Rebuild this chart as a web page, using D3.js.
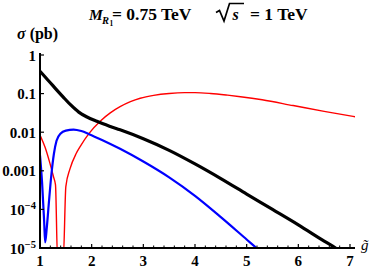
<!DOCTYPE html>
<html>
<head>
<meta charset="utf-8">
<script src="https://cdn.jsdelivr.net/npm/d3@7"></script>
<style>
  html, body { margin: 0; padding: 0; background: #fff; }
  svg { display: block; }
  text { font-family: "Liberation Serif", "Times New Roman", serif; }
</style>
</head>
<body>
<svg id="chart" width="374" height="270"></svg>
<script>
// ---- data (g-tilde, sigma in pb) ----
const blackX = [1.0, 1.1, 1.2, 1.3, 1.45, 1.6, 1.75, 1.9, 2.1, 2.36, 2.55, 3.0, 3.5, 4.0, 4.5, 5.0, 5.5, 6.0, 6.5, 6.72, 6.8];
const blackY = [0.38, 0.269, 0.191, 0.135, 0.0813, 0.050, 0.0331, 0.0251, 0.0191, 0.0141, 0.0115, 0.00676, 0.00339, 0.00151, 6.3e-4, 2.5e-4, 1.0e-4, 3.98e-5, 1.51e-5, 1.0e-5, 8.5e-6];

const blueX = [1.0, 1.04, 1.08, 1.1, 1.13, 1.17, 1.22, 1.27, 1.32, 1.4, 1.5, 1.65, 1.8, 1.95, 2.2, 2.55, 3.0, 3.5, 4.0, 4.5, 5.0, 5.19, 5.3];
const blueY = [0.0025, 5.0e-4, 5.0e-5, 1.4e-5, 3.2e-5, 1.4e-4, 7.9e-4, 0.0028, 0.006, 0.0093, 0.011, 0.0117, 0.0107, 0.0089, 0.0063, 0.00372, 0.00174, 6.76e-4, 2.24e-4, 6.3e-5, 1.66e-5, 1.0e-5, 7.4e-6];

const redX = [1.0, 1.1, 1.19, 1.26, 1.30, 1.34, 1.45, 1.50, 1.58, 1.7, 1.78, 1.95, 2.17, 2.36, 2.55, 2.75, 2.94, 3.2, 3.5, 3.8, 4.0, 4.3, 4.63, 4.88, 5.3, 5.9, 6.5, 7.1];
const redY = [0.0085, 0.004, 0.0016, 7.1e-4, 4.3e-4, 5e-6, 5e-6, 3.9e-4, 0.00112, 0.0028, 0.0043, 0.0093, 0.0195, 0.0316, 0.0457, 0.0617, 0.0759, 0.0902, 0.101, 0.106, 0.106, 0.101, 0.0912, 0.0832, 0.0692, 0.049, 0.0347, 0.0251];

const xTicks = [1, 2, 3, 4, 5, 6, 7];
const yTicks = [1, 0.1, 0.01, 0.001, 1e-4, 1e-5];
const yTickLabels = ["1", "0.1", "0.01", "0.001", "10|\u22124", "10|\u22125"];

// ---- layout ----
const svg = d3.select("#chart");
const x = d3.scaleLinear().domain([1, 7]).range([40, 350]);
const y = d3.scaleLog().domain([1e-5, 1]).range([248, 55]);
const xEnd = 355, yTop = 53;

svg.append("defs").append("clipPath").attr("id", "clip")
  .append("rect").attr("x", 40).attr("y", yTop).attr("width", xEnd - 40).attr("height", 248 - yTop);

const line = d3.line().x(d => x(d[0])).y(d => y(d[1])).curve(d3.curveMonotoneX);
const series = [
  {xs: redX, ys: redY, color: "#ff0000", w: 1.4},
  {xs: blueX, ys: blueY, color: "#0000ff", w: 2.2},
  {xs: blackX, ys: blackY, color: "#000000", w: 3.2}
];
const g = svg.append("g").attr("clip-path", "url(#clip)");
series.forEach(s => {
  g.append("path")
    .attr("d", line(d3.zip(s.xs, s.ys)))
    .attr("fill", "none").attr("stroke", s.color)
    .attr("stroke-width", s.w).attr("stroke-linejoin", "round");
});

// ---- axes ----
svg.append("line").attr("x1", 40).attr("x2", xEnd).attr("y1", 248).attr("y2", 248)
  .attr("stroke", "#000").attr("stroke-width", 2);
svg.append("line").attr("x1", 40).attr("x2", 40).attr("y1", yTop).attr("y2", 249)
  .attr("stroke", "#000").attr("stroke-width", 2);

// x ticks (major + minor)
const minorX = d3.range(1, 7.1001, 0.2);
minorX.forEach(v => {
  const major = Math.abs(v - Math.round(v)) < 1e-6;
  svg.append("line").attr("x1", x(v)).attr("x2", x(v))
    .attr("y1", 248).attr("y2", 248 - (major ? 4 : 2.5))
    .attr("stroke", "#000").attr("stroke-width", major ? 1.2 : 1);
});
xTicks.forEach(v => {
  svg.append("text").attr("x", x(v)).attr("y", 266)
    .attr("text-anchor", "middle").attr("font-size", 15).attr("font-weight", "bold")
    .text(v);
});

// y ticks
yTicks.forEach((v, i) => {
  svg.append("line").attr("x1", 40).attr("x2", 44).attr("y1", y(v)).attr("y2", y(v))
    .attr("stroke", "#000").attr("stroke-width", 1.2);
  const lab = yTickLabels[i];
  const t = svg.append("text").attr("x", 36).attr("y", y(v) + 5.5)
    .attr("text-anchor", "end").attr("font-size", 15).attr("font-weight", "bold");
  if (lab.includes("|")) {
    const [b, e] = lab.split("|");
    t.append("tspan").text(b);
    t.append("tspan").attr("dy", -6).attr("font-size", 10.5).text(e);
  } else {
    t.text(lab);
  }
});

// ---- labels ----
const title = svg.append("g").attr("font-weight", "bold");
title.append("text").attr("x", 89).attr("y", 20).attr("font-size", 15.5).attr("font-style", "italic").text("M");
title.append("text").attr("x", 102).attr("y", 24).attr("font-size", 10.5).attr("font-style", "italic").text("R");
title.append("text").attr("x", 109.5).attr("y", 26).attr("font-size", 7.5).text("1");
title.append("text").attr("x", 112).attr("y", 20).attr("font-size", 17.5).text("= 0.75 TeV");
// sqrt(s)
title.append("path").attr("d", "M216,12.5 L219.5,10.5 L224,21 L229.5,3.5 L244,3.5")
  .attr("fill", "none").attr("stroke", "#000").attr("stroke-width", 1.7).attr("stroke-linejoin", "miter");
title.append("text").attr("x", 232.5).attr("y", 20).attr("font-size", 16).attr("font-style", "italic").text("s");
title.append("text").attr("x", 250).attr("y", 20).attr("font-size", 17.5).text("= 1 TeV");

const ylab = svg.append("text").attr("x", 17).attr("y", 39).attr("font-size", 16).attr("font-weight", "bold");
ylab.append("tspan").attr("font-style", "italic").text("\u03c3");
ylab.append("tspan").text(" (pb)");

svg.append("text").attr("x", 361).attr("y", 250).attr("font-size", 15).attr("font-style", "italic")
  .text("g\u0303");
</script>
</body>
</html>
